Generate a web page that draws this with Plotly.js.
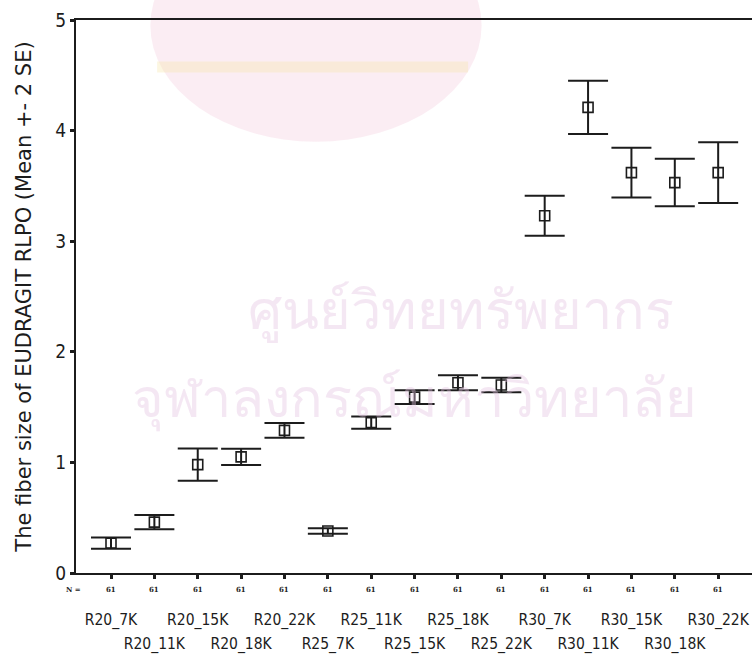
<!DOCTYPE html>
<html>
<head>
<meta charset="utf-8">
<script src="https://cdn.plot.ly/plotly-3.0.1.min.js"></script>
<style>html,body{margin:0;padding:0;background:#fff;}#chart{width:752px;height:659px;}</style>
</head>
<body>
<div id="chart"></div>
<script>
const categories = ['R20_7K','R20_11K','R20_15K','R20_18K','R20_22K','R25_7K','R25_11K','R25_15K','R25_18K','R25_22K','R30_7K','R30_11K','R30_15K','R30_18K','R30_22K'];
const meanValues = [0.27, 0.46, 0.98, 1.05, 1.29, 0.38, 1.36, 1.59, 1.72, 1.70, 3.23, 4.21, 3.62, 3.53, 3.62];
const twoSE = [0.05, 0.065, 0.145, 0.073, 0.066, 0.024, 0.056, 0.062, 0.067, 0.065, 0.18, 0.24, 0.226, 0.215, 0.274];
const nValues = [61, 61, 61, 61, 61, 61, 61, 61, 61, 61, 61, 61, 61, 61, 61];
const yTickValues = [0, 1, 2, 3, 4, 5];
const yTitle = 'The fiber size of EUDRAGIT RLPO (Mean +- 2 SE)';
const watermarkLines = ['ศูนย์วิทยทรัพยากร', 'จุฬาลงกรณ์มหาวิทยาลัย'];

const ink = '#1c1c1c';
const labelFont = 'DejaVu Sans Condensed, DejaVu Sans, sans-serif';

const rowOneText = categories.map((c, i) => i % 2 === 0 ? c : '');
const rowTwoText = categories.map((c, i) => i % 2 === 1 ? c : '');

const errTrace = {
  type: 'scatter', mode: 'markers',
  x: categories, y: meanValues,
  xaxis: 'x', yaxis: 'y',
  marker: {symbol: 'square-open', size: 10, color: ink, line: {width: 1.6, color: ink}},
  error_y: {type: 'data', array: twoSE, visible: true, color: ink, thickness: 2, width: 20},
  hoverinfo: 'x+y', showlegend: false
};
const ghostTrace = {
  type: 'scatter', mode: 'markers',
  x: categories, y: meanValues,
  xaxis: 'x2', yaxis: 'y',
  marker: {opacity: 0}, hoverinfo: 'skip', showlegend: false
};

const xRange = [-0.807, 14.78];
const annotations = categories.map((c, i) => ({
  x: c, xref: 'x', y: 0, yref: 'paper', yanchor: 'middle', yshift: -16,
  text: String(nValues[i]), showarrow: false,
  font: {family: 'DejaVu Serif, serif', size: 7, color: ink, weight: 'bold'}
}));
annotations.push({
  x: 0, xref: 'paper', xanchor: 'center', xshift: -3, y: 0, yref: 'paper', yanchor: 'middle', yshift: -16,
  text: 'N =', showarrow: false,
  font: {family: 'DejaVu Serif, serif', size: 7, color: ink, weight: 'bold'}
});
watermarkLines.forEach((t, i) => annotations.push({
  x: i === 0 ? 0.57 : 0.5, xref: 'paper', y: i === 0 ? 0.48 : 0.25, yref: 'paper',
  text: t, showarrow: false,
  font: {family: 'Noto Sans, DejaVu Sans, sans-serif', size: 54, color: 'rgba(228,196,224,0.4)'}
}));

const layout = {
  width: 752, height: 659,
  margin: {l: 76, r: 0, t: 20, b: 86},
  paper_bgcolor: '#ffffff', plot_bgcolor: 'rgba(0,0,0,0)',
  showlegend: false,
  shapes: [
    {type: 'circle', xref: 'paper', yref: 'paper', x0: 0.11, x1: 0.6, y0: 0.78, y1: 1.2,
     fillcolor: 'rgba(238,175,200,0.22)', line: {width: 0}, layer: 'below'},
    {type: 'rect', xref: 'paper', yref: 'paper', x0: 0.12, x1: 0.58, y0: 0.905, y1: 0.925,
     fillcolor: 'rgba(245,230,170,0.35)', line: {width: 0}, layer: 'below'}
  ],
  xaxis: {
    type: 'category', categoryorder: 'array', categoryarray: categories, range: xRange,
    showline: true, linecolor: ink, linewidth: 2, mirror: true,
    showgrid: false, zeroline: false,
    ticks: 'outside', ticklen: 4, tickwidth: 3, tickcolor: ink,
    tickmode: 'array', tickvals: categories, ticktext: rowOneText,
    ticklabelstandoff: 27,
    tickfont: {family: labelFont, size: 15.5, color: ink}
  },
  xaxis2: {
    type: 'category', categoryorder: 'array', categoryarray: categories, range: xRange,
    overlaying: 'x', anchor: 'y', side: 'bottom',
    showline: false, showgrid: false, zeroline: false, ticks: '',
    tickmode: 'array', tickvals: categories, ticktext: rowTwoText,
    ticklabelstandoff: 59,
    tickfont: {family: labelFont, size: 15.5, color: ink}
  },
  yaxis: {
    range: [0, 5], tickmode: 'array', tickvals: yTickValues,
    showline: true, linecolor: ink, linewidth: 2, mirror: false,
    showgrid: false, zeroline: false,
    ticks: 'outside', ticklen: 4, tickwidth: 3, tickcolor: ink,
    tickfont: {family: labelFont, size: 19, color: ink},
    title: {text: yTitle, font: {family: 'DejaVu Sans, sans-serif', size: 21, color: ink}, standoff: 18}
  },
  annotations: annotations
};

Plotly.newPlot('chart', [errTrace, ghostTrace], layout, {displayModeBar: false, staticPlot: true});
</script>
</body>
</html>
